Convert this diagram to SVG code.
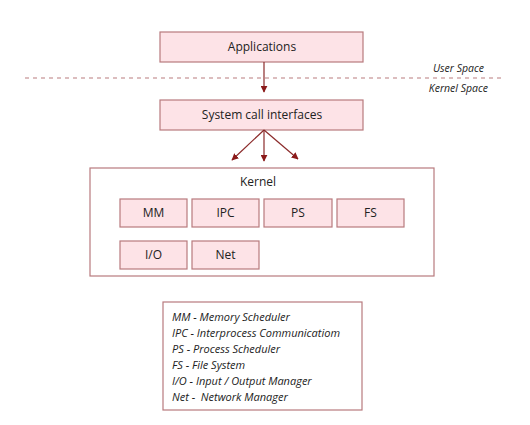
<svg xmlns="http://www.w3.org/2000/svg" width="530" height="425" viewBox="0 0 530 425">
<defs>
<style>
.box{fill:#fde3e7;stroke:#b87a7e;stroke-width:1.2}
.frame{fill:#ffffff;stroke:#b87a7e;stroke-width:1.2}
.t{font-family:"Open Sans","Noto Sans",sans-serif;font-size:12px;fill:#222;text-anchor:middle}
.it{font-family:"Open Sans","Noto Sans",sans-serif;font-size:10.5px;font-style:italic;fill:#222}
.lg{font-family:"Open Sans","Noto Sans",sans-serif;font-size:11px;font-style:italic;fill:#222}
.conn{stroke:#8b2a2a;stroke-width:1.2;fill:none}
</style>
<marker id="ah" viewBox="0 0 10 10" refX="9" refY="5" markerWidth="7" markerHeight="7" orient="auto" markerUnits="userSpaceOnUse">
<path d="M0,0 L10,5 L0,10 z" fill="#8b1a1a"/>
</marker>
</defs>
<rect width="530" height="425" fill="#ffffff"/>
<line x1="25" y1="78" x2="505" y2="78" stroke="#b97c7e" stroke-width="1.2" stroke-dasharray="4,4"/>
<text class="it" x="484" y="72" text-anchor="end">User Space</text>
<text class="it" x="488" y="92" text-anchor="end">Kernel Space</text>
<g id="applications"><rect class="box" x="160" y="32" width="203" height="30"/><text class="t" x="262" y="51">Applications</text></g>
<g id="syscall"><rect class="box" x="160" y="100" width="203" height="30"/><text class="t" x="262" y="119">System call interfaces</text></g>
<g id="kernel"><rect class="frame" x="90" y="168" width="344" height="108"/><text class="t" x="258" y="186">Kernel</text></g>
<g id="mm"><rect class="box" x="120" y="199" width="67" height="28"/><text class="t" x="153.5" y="217">MM</text></g>
<g id="ipc"><rect class="box" x="192" y="199" width="67" height="28"/><text class="t" x="225.5" y="217">IPC</text></g>
<g id="ps"><rect class="box" x="264" y="199" width="68" height="28"/><text class="t" x="298" y="217">PS</text></g>
<g id="fs"><rect class="box" x="337" y="199" width="67" height="28"/><text class="t" x="370.5" y="217">FS</text></g>
<g id="io"><rect class="box" x="120" y="241" width="67" height="28"/><text class="t" x="153.5" y="259">I/O</text></g>
<g id="net"><rect class="box" x="192" y="241" width="67" height="28"/><text class="t" x="225.5" y="259">Net</text></g>
<g id="legend"><rect class="frame" x="163" y="302" width="199" height="108"/>
<text class="lg" x="172" y="321">MM - Memory Scheduler</text>
<text class="lg" x="172" y="337">IPC - Interprocess Communicatiom</text>
<text class="lg" x="172" y="353">PS - Process Scheduler</text>
<text class="lg" x="172" y="369">FS - File System</text>
<text class="lg" x="172" y="385" xml:space="preserve">I/O - Input / Output Manager</text>
<text class="lg" x="172" y="401" xml:space="preserve">Net -  Network Manager</text>
</g>
<g id="connectors">
<line class="conn" x1="264" y1="62" x2="264" y2="92" marker-end="url(#ah)"/>
<line class="conn" x1="264" y1="130" x2="232" y2="160" marker-end="url(#ah)"/>
<line class="conn" x1="264" y1="130" x2="264" y2="161" marker-end="url(#ah)"/>
<line class="conn" x1="264" y1="130" x2="298" y2="159" marker-end="url(#ah)"/>
</g>
</svg>
